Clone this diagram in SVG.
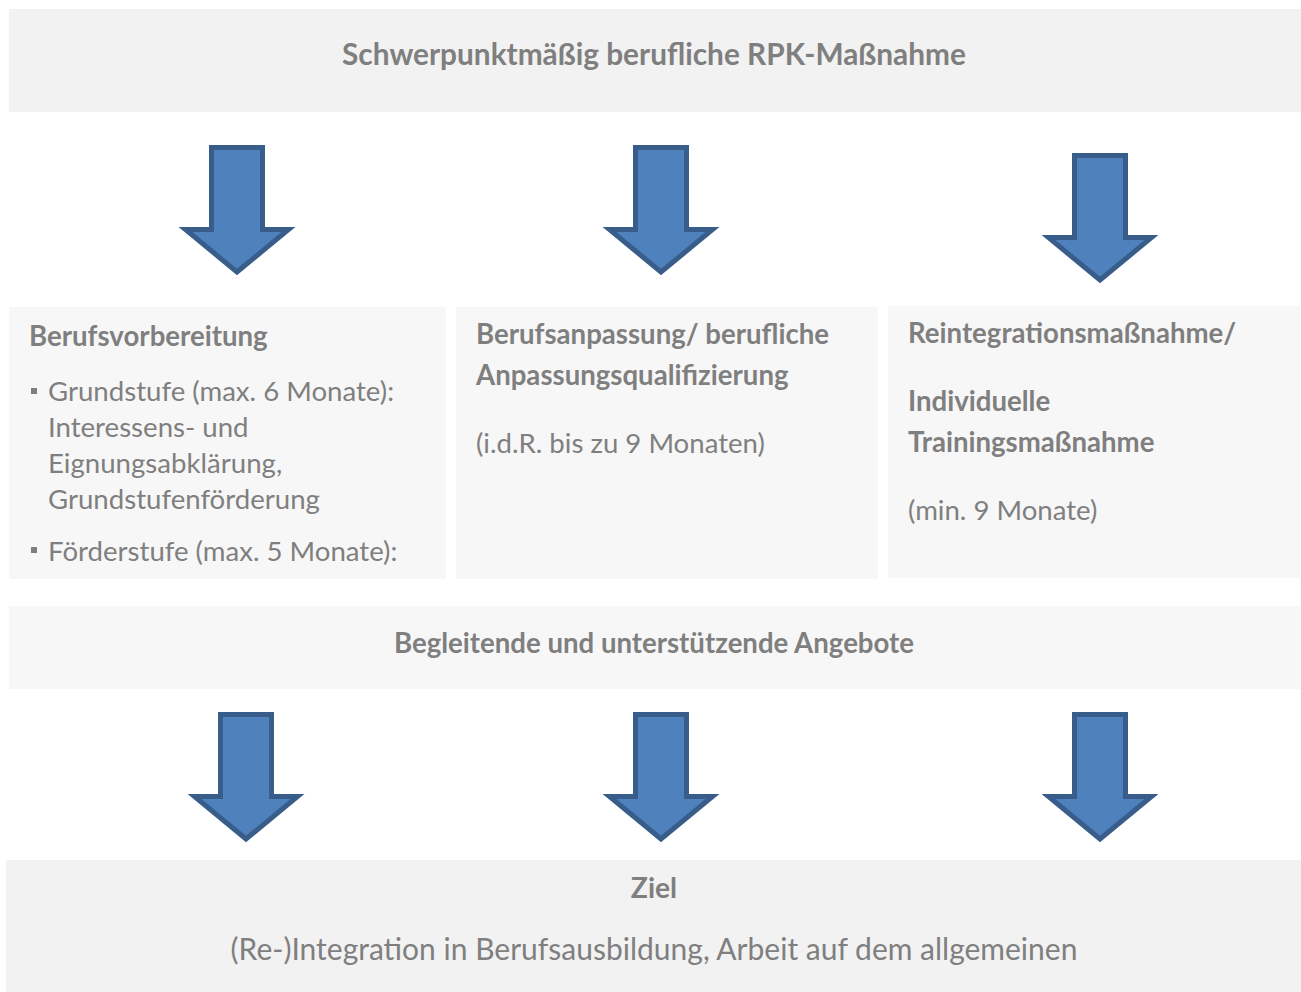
<svg xmlns="http://www.w3.org/2000/svg" width="1301" height="992" viewBox="0 0 1301 992">
<style>
.bg{fill:#f2f2f2}
.bl{fill:#f7f7f7}
.t{font-family:Lato,"Liberation Sans",sans-serif;font-size:27.6px;fill:#7f7f7f}
.b{font-weight:bold}
.big{font-size:29.8px}
.arr{fill:#4f81bd;stroke:#385d8a;stroke-width:5;stroke-linejoin:miter;stroke-miterlimit:10}
.bul{fill:#7f7f7f}
</style>
<defs>
<path id="arrow" class="arr" d="M-25.5,2.5 H25.5 V84.5 H51.5 L0,127 L-51.5,84.5 H-25.5 Z"/>
</defs>
<rect width="1301" height="992" fill="#ffffff"/>
<g id="top">
<rect class="bg" x="9" y="9" width="1292" height="103"/>
<text class="t b big" x="654" y="65" text-anchor="middle">Schwerpunktmäßig berufliche RPK-Maßnahme</text>
</g>
<g id="box1">
<rect class="bl" x="9" y="307" width="437" height="272"/>
<text class="t b" x="29" y="346">Berufsvorbereitung</text>
<rect class="bul" x="31" y="388" width="6" height="6"/>
<text class="t" x="48" y="401">Grundstufe (max. 6 Monate):</text>
<text class="t" x="48" y="437">Interessens- und</text>
<text class="t" x="48" y="473">Eignungsabklärung,</text>
<text class="t" x="48" y="509">Grundstufenförderung</text>
<rect class="bul" x="31" y="547" width="6" height="6"/>
<text class="t" x="48" y="561">Förderstufe (max. 5 Monate):</text>
</g>
<g id="box2">
<rect class="bl" x="456" y="307" width="422" height="272"/>
<text class="t b" x="476" y="344">Berufsanpassung/ berufliche</text>
<text class="t b" x="476" y="385">Anpassungsqualifizierung</text>
<text class="t" x="476" y="453">(i.d.R. bis zu 9 Monaten)</text>
</g>
<g id="box3">
<rect class="bl" x="888" y="306" width="412" height="272"/>
<text class="t b" x="908" y="343">Reintegrationsmaßnahme/</text>
<text class="t b" x="908" y="411">Individuelle</text>
<text class="t b" x="908" y="452">Trainingsmaßnahme</text>
<text class="t" x="908" y="520">(min. 9 Monate)</text>
</g>
<g id="support">
<rect class="bl" x="9" y="606" width="1292" height="83"/>
<text class="t b" x="654" y="653" text-anchor="middle">Begleitende und unterstützende Angebote</text>
</g>
<g id="goal">
<rect class="bg" x="6" y="860" width="1295" height="132"/>
<text class="t b" x="654" y="898" text-anchor="middle" style="font-size:28.2px">Ziel</text>
<text class="t" x="654" y="960" text-anchor="middle" style="font-size:30px">(Re-)Integration in Berufsausbildung, Arbeit auf dem allgemeinen</text>
</g>
<g id="connectors">
<use href="#arrow" x="237" y="145"/>
<use href="#arrow" x="661" y="145"/>
<use href="#arrow" x="1100" y="153"/>
<use href="#arrow" x="246" y="712"/>
<use href="#arrow" x="661" y="712"/>
<use href="#arrow" x="1100" y="712"/>
</g>
</svg>
